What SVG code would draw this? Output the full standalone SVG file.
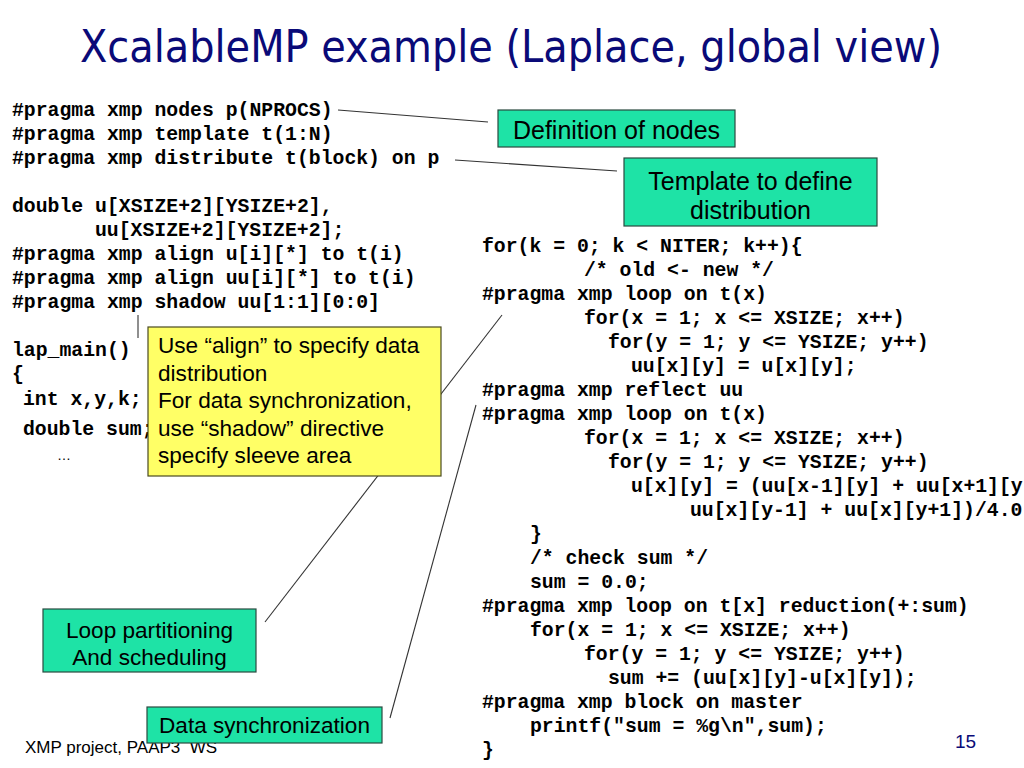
<svg xmlns="http://www.w3.org/2000/svg" width="1024" height="768" viewBox="0 0 1024 768">
<style>
.code{font-family:"Liberation Mono","Courier New",monospace;font-weight:bold;font-size:19.8px;fill:#000}
.lbl{font-family:"Liberation Sans",Arial,sans-serif;fill:#000}
.green{fill:#1ee3a6;stroke:#2a4a40;stroke-width:1.2}
.yellow{fill:#ffff66;stroke:#4a4a20;stroke-width:1.2}
.conn line{stroke:#333;stroke-width:1.1}
</style>
<rect width="1024" height="768" fill="#fff"/>
<text id="title" x="511" y="62" text-anchor="middle" font-family="'DejaVu Sans Condensed','DejaVu Sans',sans-serif" font-size="45" fill="#0a0a78" textLength="862" lengthAdjust="spacingAndGlyphs">XcalableMP example (Laplace, global view)</text>
<g id="code-left" class="code">
<text x="12" y="116">#pragma xmp nodes p(NPROCS)</text>
<text x="12" y="140">#pragma xmp template t(1:N)</text>
<text x="12" y="164">#pragma xmp distribute t(block) on p</text>
<text x="12" y="212">double u[XSIZE+2][YSIZE+2],</text>
<text x="95" y="236">uu[XSIZE+2][YSIZE+2];</text>
<text x="12" y="260">#pragma xmp align u[i][*] to t(i)</text>
<text x="12" y="284">#pragma xmp align uu[i][*] to t(i)</text>
<text x="12" y="308">#pragma xmp shadow uu[1:1][0:0]</text>
<text x="12" y="356">lap_main()</text>
<text x="12" y="380">{</text>
<text x="23" y="405">int x,y,k;</text>
<text x="23" y="435">double sum;</text>
</g>
<text x="57" y="460" class="lbl" font-size="14">…</text>
<g id="code-right" class="code">
<text x="482" y="252">for(k = 0; k &lt; NITER; k++){</text>
<text x="584" y="276">/* old &lt;- new */</text>
<text x="482" y="300">#pragma xmp loop on t(x)</text>
<text x="584" y="324">for(x = 1; x &lt;= XSIZE; x++)</text>
<text x="608" y="348">for(y = 1; y &lt;= YSIZE; y++)</text>
<text x="631" y="372">uu[x][y] = u[x][y];</text>
<text x="482" y="396">#pragma xmp reflect uu</text>
<text x="482" y="420">#pragma xmp loop on t(x)</text>
<text x="584" y="444">for(x = 1; x &lt;= XSIZE; x++)</text>
<text x="608" y="468">for(y = 1; y &lt;= YSIZE; y++)</text>
<text x="631" y="492">u[x][y] = (uu[x-1][y] + uu[x+1][y</text>
<text x="690" y="516">uu[x][y-1] + uu[x][y+1])/4.0</text>
<text x="530" y="540">}</text>
<text x="530" y="564">/* check sum */</text>
<text x="530" y="588">sum = 0.0;</text>
<text x="482" y="612">#pragma xmp loop on t[x] reduction(+:sum)</text>
<text x="530" y="636">for(x = 1; x &lt;= XSIZE; x++)</text>
<text x="584" y="660">for(y = 1; y &lt;= YSIZE; y++)</text>
<text x="608" y="684">sum += (uu[x][y]-u[x][y]);</text>
<text x="482" y="708">#pragma xmp block on master</text>
<text x="530" y="732">printf("sum = %g\n",sum);</text>
<text x="482" y="756">}</text>
</g>
<text id="footer" x="25" y="753" class="lbl" font-size="17" xml:space="preserve">XMP project, PAAP3  WS</text>
<text id="page" x="955" y="748" class="lbl" font-size="19" style="fill:#0a0a78">15</text>
<g id="connectors" class="conn">
<line x1="338" y1="110" x2="488" y2="122"/>
<line x1="455" y1="160" x2="617" y2="171"/>
<line x1="138" y1="315" x2="138" y2="338"/>
<line x1="265" y1="622" x2="502" y2="315"/>
<line x1="390" y1="718" x2="476" y2="405"/>
</g>
<g id="node-nodes">
<rect class="green" x="498" y="110" width="237" height="37"/>
<text class="lbl" x="616.5" y="139" font-size="25" text-anchor="middle">Definition of nodes</text>
</g>
<g id="node-template">
<rect class="green" x="624" y="158" width="253" height="68"/>
<text class="lbl" x="750.5" y="190" font-size="25" text-anchor="middle">Template to define</text>
<text class="lbl" x="750.5" y="219" font-size="25" text-anchor="middle">distribution</text>
</g>
<g id="node-align">
<rect class="yellow" x="148" y="327" width="293" height="149"/>
<text class="lbl" x="158" y="353" font-size="22.6">Use “align” to specify data</text>
<text class="lbl" x="158" y="380.5" font-size="22.6">distribution</text>
<text class="lbl" x="158" y="408" font-size="22.6">For data synchronization,</text>
<text class="lbl" x="158" y="435.5" font-size="22.6">use “shadow” directive</text>
<text class="lbl" x="158" y="463" font-size="22.6">specify sleeve area</text>
</g>
<g id="node-loop">
<rect class="green" x="43" y="609" width="213" height="63"/>
<text class="lbl" x="149.5" y="638" font-size="22.6" text-anchor="middle">Loop partitioning</text>
<text class="lbl" x="149.5" y="665" font-size="22.6" text-anchor="middle">And scheduling</text>
</g>
<g id="node-sync">
<rect class="green" x="147" y="707" width="235" height="36"/>
<text class="lbl" x="264.5" y="733" font-size="22.6" text-anchor="middle">Data synchronization</text>
</g>
</svg>
